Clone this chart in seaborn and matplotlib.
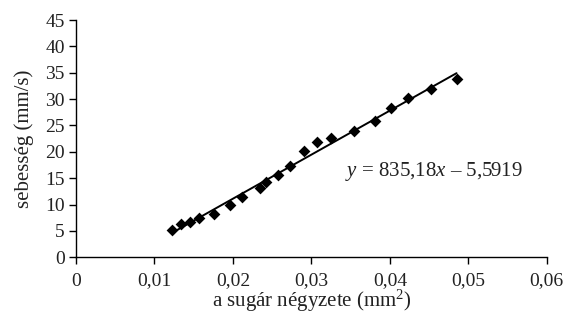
import numpy as np
import pandas as pd
import seaborn as sns
import matplotlib
matplotlib.use('Agg')
import matplotlib.pyplot as plt

# data
radiusSq = [0.0122, 0.0134, 0.0145, 0.0157, 0.0176, 0.0196, 0.0211, 0.0234, 0.0242, 0.0257,
            0.0273, 0.0290, 0.0307, 0.0325, 0.0354, 0.0381, 0.0401, 0.0423, 0.0453, 0.0485]
speed = [5.2, 6.3, 6.6, 7.5, 8.2, 10.0, 11.4, 13.2, 14.2, 15.7,
         17.3, 20.2, 21.8, 22.7, 24.0, 25.8, 28.4, 30.3, 32.0, 33.9]
slope = 835.18
intercept = -5.5919
xTicks = [0, 0.01, 0.02, 0.03, 0.04, 0.05, 0.06]
xTickLabels = ['0', '0,01', '0,02', '0,03', '0,04', '0,05', '0,06']
yTicks = [0, 5, 10, 15, 20, 25, 30, 35, 40, 45]

sns.set_style('ticks')
plt.rcParams['font.family'] = ['Liberation Serif', 'DejaVu Serif']
plt.rcParams['mathtext.fontset'] = 'custom'
plt.rcParams['mathtext.rm'] = 'Liberation Serif'
plt.rcParams['mathtext.it'] = 'Liberation Serif:italic'

df = pd.DataFrame({'x': radiusSq, 'y': speed})
xFit = np.array([min(radiusSq), max(radiusSq)])
fit = pd.DataFrame({'x': xFit, 'y': slope * xFit + intercept})

fig = plt.figure(figsize=(5.66, 3.16), dpi=100)
ax = fig.add_axes([0.1343, 0.1858, 0.8317, 0.7509])

sns.scatterplot(data=df, x='x', y='y', marker='D', s=36, color='black',
                edgecolor='black', linewidth=0, ax=ax, zorder=3)
sns.lineplot(data=fit, x='x', y='y', color='black', linewidth=1.4, ax=ax)

ax.set_xlim(0, 0.06)
ax.set_ylim(0, 45)
ax.set_xticks(xTicks)
ax.set_xticklabels(xTickLabels)
ax.set_yticks(yTicks)
ax.tick_params(labelsize=14, length=5, width=1, color='black', labelcolor='#222222')
ax.tick_params(axis='x', pad=6)
ax.tick_params(axis='y', pad=3)
sns.despine(ax=ax)
for s in ['left', 'bottom']:
  ax.spines[s].set_color('black')
  ax.spines[s].set_linewidth(1)

ax.set_xlabel('a sugár négyzete (mm$^2$)', fontsize=15, color='#222222', labelpad=-1)
ax.set_ylabel('sebesség (mm/s)', fontsize=15, color='#222222', labelpad=8)

ax.text(0.0343, 16.2, '$y$ = 835,18$x$ – 5,5919', fontsize=15, color='#222222', va='center')

fig.savefig('out.png', dpi=100)
